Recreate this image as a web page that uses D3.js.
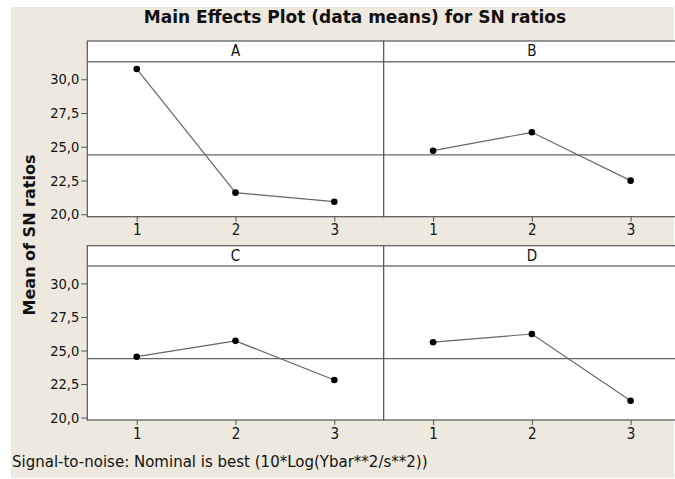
<!DOCTYPE html>
<html>
<head>
<meta charset="utf-8">
<script src="https://cdn.jsdelivr.net/npm/d3@7"></script>
<style>
  body { margin: 0; background: #fff; }
  svg { display: block; }
</style>
</head>
<body>
<div class="display"></div>
<script>
// factor names (one panel each) and levels on the x axis
const factors = ["A", "B", "C", "D"];
const levels = [1, 2, 3];

// mean of SN ratios per level
const meansA = [30.76, 21.6, 20.93];
const meansB = [24.71, 26.07, 22.49];
const meansC = [24.54, 25.72, 22.8];
const meansD = [25.62, 26.23, 21.25];

// overall mean (horizontal reference line)
const grandMean = 24.4;

// y tick values
const yTicks = [20, 22.5, 25, 27.5, 30];

const seriesByFactor = { A: meansA, B: meansB, C: meansC, D: meansD };

const width = 675;
const height = 479;
const font = "'DejaVu Sans Condensed', 'DejaVu Sans', sans-serif";
const wideFont = "'DejaVu Sans', sans-serif";

const svg = d3.select(".display")
  .append("svg")
  .attr("width", width)
  .attr("height", height);

//beige background panel
svg.append("rect")
  .attr("x", 11)
  .attr("y", 7)
  .attr("width", 663)
  .attr("height", 471)
  .attr("fill", "#eee9df");

//title
svg.append("text")
  .attr("x", 355)
  .attr("y", 23)
  .attr("text-anchor", "middle")
  .style("font-family", wideFont)
  .style("font-weight", "bold")
  .style("font-size", "17px")
  .attr("fill", "#111")
  .text("Main Effects Plot (data means) for SN ratios");

//y axis title
svg.append("text")
  .attr("transform", "translate(35, 235) rotate(-90)")
  .attr("text-anchor", "middle")
  .style("font-family", wideFont)
  .style("font-weight", "bold")
  .style("font-size", "16px")
  .attr("fill", "#111")
  .text("Mean of SN ratios");

//footnote
svg.append("text")
  .attr("x", 12)
  .attr("y", 467)
  .style("font-family", wideFont)
  .style("font-size", "15px")
  .attr("fill", "#111")
  .text("Signal-to-noise: Nominal is best (10*Log(Ybar**2/s**2))");

//panel grid geometry
const cols = [[87.3, 383.7], [383.7, 680]];
const rows = [
  { top: 41, strip: 61.7, bottom: 216.7 },
  { top: 245.7, strip: 266, bottom: 420 }
];

factors.forEach((f, i) => {
  const col = cols[i % 2];
  const row = rows[Math.floor(i / 2)];
  drawPanel(f, seriesByFactor[f], col, row, i % 2 === 0);
});

function drawPanel(name, values, col, row, showY) {
  const [x0, x1] = col;

  const xScale = d3.scaleLinear().domain([0.5, 3.5]).range([x0, x1]);
  const yScale = d3.scaleLinear().domain([19.82, 31.3]).range([row.bottom, row.strip]);

  const g = svg.append("g").attr("class", "panel");

  //white plot area
  g.append("rect")
    .attr("x", x0)
    .attr("y", row.top)
    .attr("width", x1 - x0)
    .attr("height", row.bottom - row.top)
    .attr("fill", "#fff")
    .attr("stroke", "#555")
    .attr("stroke-width", 1.2);

  //strip separator
  g.append("line")
    .attr("x1", x0).attr("x2", x1)
    .attr("y1", row.strip).attr("y2", row.strip)
    .attr("stroke", "#777")
    .attr("stroke-width", 1.5);

  //strip label
  g.append("text")
    .attr("x", (x0 + x1) / 2)
    .attr("y", (row.top + row.strip) / 2 + 5)
    .attr("text-anchor", "middle")
    .style("font-family", font)
    .style("font-size", "15px")
    .attr("fill", "#111")
    .text(name);

  //x axis
  const xAxis = d3.axisBottom(xScale)
    .tickValues(levels)
    .tickSize(5)
    .tickPadding(3)
    .tickFormat(d3.format("d"));

  const xg = g.append("g")
    .attr("transform", `translate(0, ${row.bottom})`)
    .call(xAxis);
  xg.select(".domain").remove();
  xg.selectAll("line").attr("stroke", "#555");
  xg.selectAll("text")
    .style("font-family", font)
    .style("font-size", "15px")
    .attr("fill", "#111");

  //y axis only on the left column
  if (showY) {
    const yAxis = d3.axisLeft(yScale)
      .tickValues(yTicks)
      .tickSize(6)
      .tickPadding(2)
      .tickFormat(d => d3.format(".1f")(d).replace(".", ","));

    const yg = g.append("g")
      .attr("transform", `translate(${x0}, 0)`)
      .call(yAxis);
    yg.select(".domain").remove();
    yg.selectAll("line").attr("stroke", "#555");
    yg.selectAll("text")
      .style("font-family", font)
      .style("font-size", "14.5px")
      .attr("fill", "#111");
  }

  //grand mean reference line
  g.append("line")
    .attr("x1", x0).attr("x2", x1)
    .attr("y1", yScale(grandMean)).attr("y2", yScale(grandMean))
    .attr("stroke", "#666")
    .attr("stroke-width", 1.2);

  //connecting line
  const points = levels.map((l, i) => [l, values[i]]);
  const line = d3.line()
    .x(d => xScale(d[0]))
    .y(d => yScale(d[1]));

  g.append("path")
    .datum(points)
    .attr("d", line)
    .attr("fill", "none")
    .attr("stroke", "#666")
    .attr("stroke-width", 1.2);

  //mean points
  g.selectAll(".dot")
    .data(points)
    .enter()
    .append("circle")
    .attr("class", "dot")
    .attr("cx", d => xScale(d[0]))
    .attr("cy", d => yScale(d[1]))
    .attr("r", 3.3)
    .attr("fill", "#000");
}
</script>
</body>
</html>
